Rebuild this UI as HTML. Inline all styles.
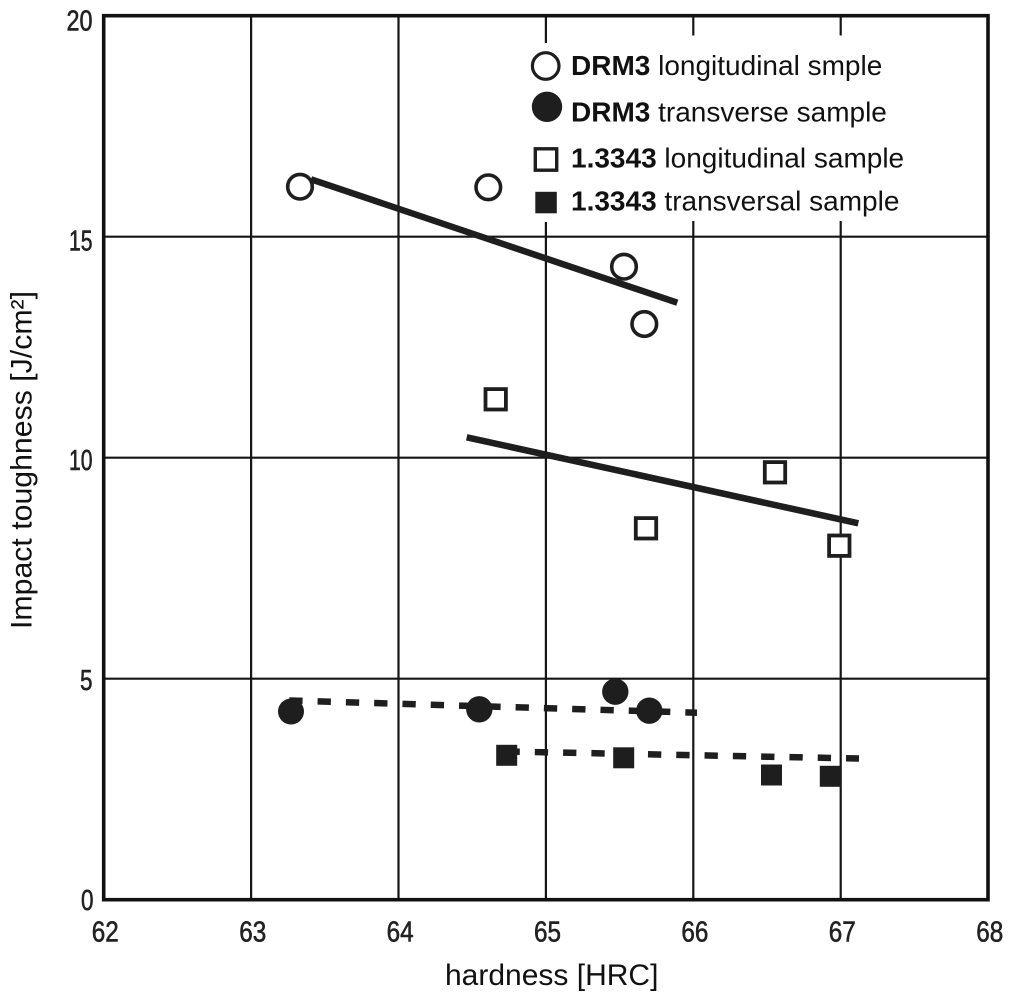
<!DOCTYPE html>
<html>
<head>
<meta charset="utf-8">
<style>
  html, body { margin:0; padding:0; background:#fff; }
  svg { display:block; }
  text { font-family: "Liberation Sans", Arial, sans-serif; }
</style>
</head>
<body>
<svg width="1024" height="1000" viewBox="0 0 1024 1000" xmlns="http://www.w3.org/2000/svg">
  <rect x="0" y="0" width="1024" height="1000" fill="#fff"/>

  <!-- grid lines -->
  <g stroke="#151515" stroke-width="2.2" fill="none">
    <line x1="251.1" y1="15.7" x2="251.1" y2="899.7"/>
    <line x1="398.5" y1="15.7" x2="398.5" y2="899.7"/>
    <line x1="545.9" y1="15.7" x2="545.9" y2="43"/>
    <line x1="545.9" y1="222" x2="545.9" y2="899.7"/>
    <line x1="693.3" y1="15.7" x2="693.3" y2="35.5"/>
    <line x1="693.3" y1="221" x2="693.3" y2="899.7"/>
    <line x1="840.7" y1="15.7" x2="840.7" y2="35.5"/>
    <line x1="840.7" y1="221" x2="840.7" y2="899.7"/>
    <line x1="103.7" y1="236.7" x2="988" y2="236.7"/>
    <line x1="103.7" y1="457.7" x2="988" y2="457.7"/>
    <line x1="103.7" y1="678.7" x2="988" y2="678.7"/>
  </g>

  <!-- axes frame -->
  <rect x="103.7" y="15.7" width="884.3" height="884" fill="none" stroke="#111" stroke-width="3.6"/>

  <!-- y tick labels -->
  <g fill="#222" stroke="#222" stroke-width="0.6" font-size="28.5" text-anchor="end">
    <text x="92.5" y="30.5" textLength="26" lengthAdjust="spacingAndGlyphs">20</text>
    <text x="92.5" y="250.5" textLength="23.5" lengthAdjust="spacingAndGlyphs">15</text>
    <text x="92.5" y="470" textLength="23.5" lengthAdjust="spacingAndGlyphs">10</text>
    <text x="92.5" y="690" textLength="12.5" lengthAdjust="spacingAndGlyphs">5</text>
    <text x="93.5" y="910" textLength="12.5" lengthAdjust="spacingAndGlyphs">0</text>
  </g>

  <!-- x tick labels -->
  <g fill="#222" stroke="#222" stroke-width="0.6" font-size="28.5">
    <text x="91.8" y="941.5" textLength="27" lengthAdjust="spacingAndGlyphs">62</text>
    <text x="239.2" y="941.5" textLength="27" lengthAdjust="spacingAndGlyphs">63</text>
    <text x="386.6" y="941.5" textLength="27" lengthAdjust="spacingAndGlyphs">64</text>
    <text x="534" y="941.5" textLength="27" lengthAdjust="spacingAndGlyphs">65</text>
    <text x="681.4" y="941.5" textLength="27" lengthAdjust="spacingAndGlyphs">66</text>
    <text x="828.8" y="941.5" textLength="27" lengthAdjust="spacingAndGlyphs">67</text>
    <text x="976.2" y="941.5" textLength="27" lengthAdjust="spacingAndGlyphs">68</text>
  </g>

  <!-- axis titles -->
  <text x="551.7" y="985" font-size="30" fill="#111" text-anchor="middle">hardness [HRC]</text>
  <text transform="translate(31.7,460) rotate(-90)" x="0" y="0" font-size="30" fill="#111" text-anchor="middle" textLength="338" lengthAdjust="spacingAndGlyphs">Impact toughness [J/cm²]</text>

  <!-- trend lines -->
  <g stroke="#1e1e1e" stroke-width="6.5" fill="none">
    <line x1="311" y1="179.3" x2="677.3" y2="302.7"/>
    <line x1="466.7" y1="437.3" x2="858.3" y2="523.3"/>
    <line x1="289.3" y1="700.5" x2="697" y2="712.7" stroke-dasharray="13.3 15"/>
    <line x1="506.5" y1="751.5" x2="859" y2="758.5" stroke-dasharray="13.3 15"/>
  </g>

  <!-- DRM3 longitudinal: open circles -->
  <g fill="#fff" stroke="#1e1e1e" stroke-width="3.6">
    <circle cx="300" cy="186.7" r="12.3"/>
    <circle cx="488.3" cy="187.3" r="12.3"/>
    <circle cx="624" cy="266.7" r="12.3"/>
    <circle cx="644.3" cy="324" r="12.3"/>
  </g>

  <!-- 1.3343 longitudinal: open squares -->
  <g fill="#fff" stroke="#1e1e1e" stroke-width="3.8">
    <rect x="485.5" y="389.1" width="20.4" height="20.4"/>
    <rect x="635.8" y="518.1" width="20.4" height="20.4"/>
    <rect x="764.8" y="462.1" width="20.4" height="20.4"/>
    <rect x="829.1" y="535.5" width="20.4" height="20.4"/>
  </g>

  <!-- DRM3 transverse: filled circles -->
  <g fill="#1e1e1e">
    <circle cx="291" cy="711.5" r="13"/>
    <circle cx="479.3" cy="709.3" r="13.2"/>
    <circle cx="615.3" cy="691.7" r="13.2"/>
    <circle cx="649.3" cy="710.7" r="13.2"/>
  </g>

  <!-- 1.3343 transversal: filled squares -->
  <g fill="#1e1e1e">
    <rect x="496.2" y="744.8" width="21" height="21"/>
    <rect x="613.2" y="747.3" width="21" height="21"/>
    <rect x="761" y="764.5" width="21" height="21"/>
    <rect x="819.8" y="765.8" width="21" height="21"/>
  </g>

  <!-- legend -->
  <g>
    <circle cx="545.7" cy="66" r="13.3" fill="#fff" stroke="#1e1e1e" stroke-width="3.2"/>
    <circle cx="547" cy="106.8" r="15.2" fill="#1e1e1e"/>
    <rect x="535.3" y="148.8" width="21.4" height="21.4" fill="#fff" stroke="#1e1e1e" stroke-width="3.4"/>
    <rect x="535.3" y="191.8" width="21.5" height="21.5" fill="#1e1e1e"/>
  </g>
  <g font-size="28" fill="#111">
    <text x="571" y="75"><tspan font-weight="bold">DRM3</tspan> longitudinal smple</text>
    <text x="571" y="121.5"><tspan font-weight="bold">DRM3</tspan> transverse sample</text>
    <text x="571" y="167.5"><tspan font-weight="bold">1.3343</tspan> longitudinal sample</text>
    <text x="571" y="210.5"><tspan font-weight="bold">1.3343</tspan> transversal sample</text>
  </g>
</svg>
</body>
</html>
